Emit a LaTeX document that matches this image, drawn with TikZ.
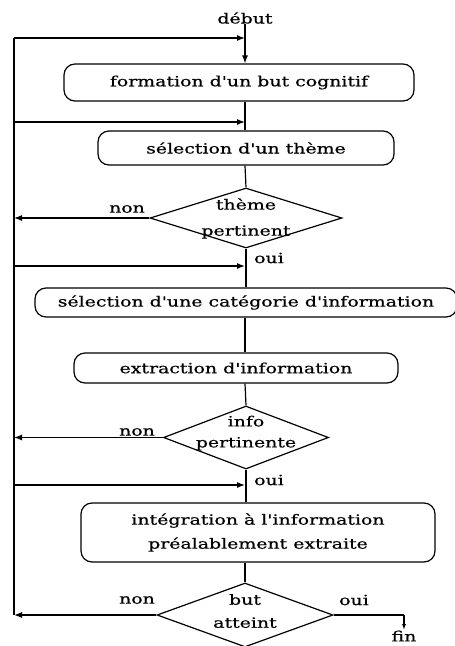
\documentclass[tikz,border=0pt]{standalone}
\usepackage{fontspec}
\setmainfont[FakeStretch=1.35, FakeBold=0.6, Ligatures=TeXOff]{DejaVu Serif}
\usetikzlibrary{shapes.geometric,arrows.meta}
\begin{document}
\begin{tikzpicture}[x=1pt,y=-1pt,
  line width=1.2pt,
  every node/.style={font=\fontsize{14}{15}\selectfont, inner sep=0pt},
  procbox/.style={draw, rounded corners=11pt},
  decbox/.style={draw, diamond, inner sep=0pt},
  lbl/.style={font=\fontsize{14}{15}\selectfont},
  arr/.style={-{Latex[length=8pt,width=6pt]}},
  sarr/.style={-{Latex[length=6pt,width=4pt]}}
]
\useasboundingbox (0,0) rectangle (455,646);
% terminals
\node[lbl] (debut) at (245,18) {début};
\node[lbl] (fin) at (404,636) {fin};
% process boxes
\node[procbox, minimum width=350pt, minimum height=37pt] (b1) at (239,82.5) {formation d'un but cognitif};
\node[procbox, minimum width=296pt, minimum height=34pt] (b2) at (246,148) {sélection d'un thème};
\node[procbox, minimum width=422pt, minimum height=29pt] (b3) at (246,302.5) {sélection d'une catégorie d'information};
\node[procbox, minimum width=354pt, minimum height=59pt, align=center] (b5) at (258,532.5) {intégration à l'information\\[9pt]préalablement extraite};
\node[procbox, minimum width=324pt, minimum height=30pt] (b4) at (236,368) {extraction d'information};
% decisions
\node[decbox, minimum width=192pt, minimum height=60pt] (d1) at (246,218) {};
\node[lbl, align=center] (d1t) at (246,218.5) {thème\\[11pt]pertinent};
\node[decbox, minimum width=165pt, minimum height=63pt] (d2) at (246,437.5) {};
\node[lbl, align=center] (d2t) at (246,433) {info\\[6pt]pertinente};
\node[decbox, minimum width=176pt, minimum height=64pt] (d3) at (245,615) {};
\node[lbl, align=center] (d3t) at (245,611) {but\\[8pt]atteint};
% labels
\node[lbl] (n1) at (127,209) {non};
\node[lbl] (n2) at (137,432) {non};
\node[lbl] (n3) at (137,600) {non};
\node[lbl] (o1) at (269,258) {oui};
\node[lbl] (o2) at (269,480) {oui};
\node[lbl] (o3) at (354,600) {oui};
% reference coordinates
\coordinate (L1) at (14,38);
\coordinate (L2) at (14,122);
\coordinate (L3) at (14,266);
\coordinate (L4) at (14,485);
\coordinate (Lb) at (14,615);
\coordinate (M) at (245,0);
\coordinate (F) at (404,615);
% main flow
\draw[arr] (debut.south) -- (debut.south |- b1.north);
\draw (M |- b1.south) -- (M |- b2.north);
\draw (M |- b2.south) -- (d1.north);
\draw (d1.south) -- (d1.south |- b3.north);
\draw (M |- b3.south) -- (M |- b4.north);
\draw (M |- b4.south) -- (d2.north);
\draw (d2.south) -- (d2.south |- b5.north);
\draw (M |- b5.south) -- (d3.north);
% non branches
\draw[arr] (d1.west) -- (d1.west -| L1);
\draw[arr] (d2.west) -- (d2.west -| L1);
\draw[arr] (d3.west) -- (Lb);
% return line
\draw (Lb) -- (L1);
\draw[arr] (L1) -- (L1 -| M);
\draw[arr] (L2) -- (L2 -| M);
\draw[arr] (L3) -- (L3 -| M);
\draw[arr] (L4) -- (L4 -| M);
% oui to fin
\draw (d3.east) -- (F);
\draw[sarr] (F) -- (fin.north);
\end{tikzpicture}
\end{document}
